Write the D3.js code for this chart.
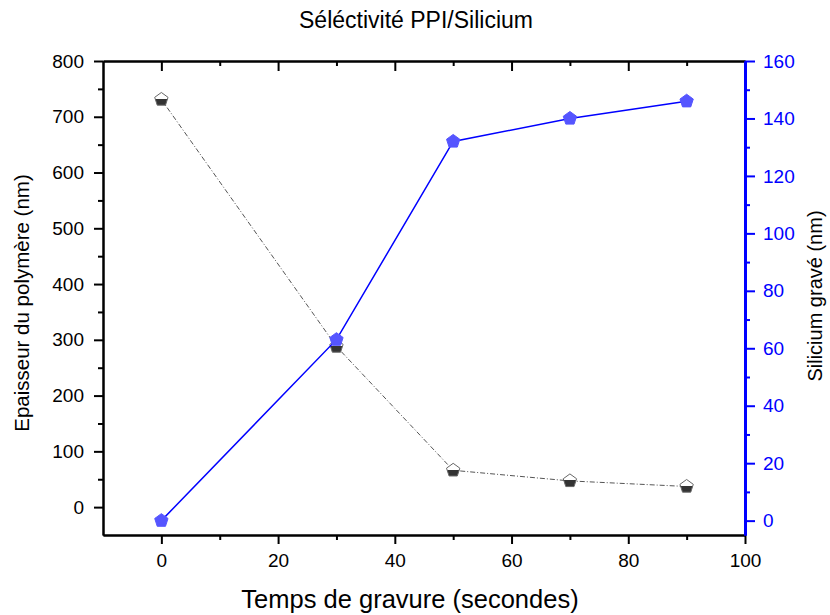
<!DOCTYPE html>
<html>
<head>
<meta charset="utf-8">
<script src="https://cdn.jsdelivr.net/npm/d3@7"></script>
<style>
  body { margin: 0; background: #fff; }
  text { font-family: "Liberation Sans", Arial, sans-serif; }
</style>
</head>
<body>
<svg id="chart"></svg>
<script>
// data
const times = [0, 30, 50, 70, 90];
const polymer = [731, 288, 66, 47, 37];      // left axis, nm
const silicon = [0, 63, 132, 140, 146];      // right axis, nm

const xTicks = [0, 20, 40, 60, 80, 100];
const yLeftTicks = [0, 100, 200, 300, 400, 500, 600, 700, 800];
const yRightTicks = [0, 20, 40, 60, 80, 100, 120, 140, 160];

const config = {
  width: 830,
  height: 615,
  margin: {top: 61, right: 85, bottom: 80, left: 103}
};

const svg = d3.select('#chart')
  .attr('width', config.width)
  .attr('height', config.height);

const w = config.width - config.margin.left - config.margin.right;
const h = config.height - config.margin.top - config.margin.bottom;

const chart = svg.append('g')
  .attr('transform', `translate(${config.margin.left},${config.margin.top})`);

const x = d3.scaleLinear().domain([-10, 100]).range([0, w]);
const yL = d3.scaleLinear().domain([-50, 800]).range([h, 0]);
const yR = d3.scaleLinear().domain([-5, 160]).range([h, 0]);

// minor ticks halfway between majors
const minor = (ticks) => ticks.slice(1).map((t, i) => (t + ticks[i]) / 2)
  .concat([ticks[0] - (ticks[1] - ticks[0]) / 2]);

function styleAxis(g, color, width, fontSize) {
  g.select('.domain').attr('stroke', color).attr('stroke-width', width);
  g.selectAll('.tick line').attr('stroke', color).attr('stroke-width', 2);
  g.selectAll('.tick text').attr('fill', color).style('font-size', fontSize + 'px');
}

// bottom axis
const xMinor = minor(xTicks).filter(t => t > -10 && t < 100);
chart.append('g').attr('transform', `translate(0,${h})`)
  .call(d3.axisBottom(x).tickValues(xMinor).tickSize(5).tickFormat('').tickSizeOuter(0))
  .call(g => styleAxis(g, '#000', 2, 19));
chart.append('g').attr('transform', `translate(0,${h})`)
  .call(d3.axisBottom(x).tickValues(xTicks).tickSize(9).tickPadding(10).tickSizeOuter(0))
  .call(g => styleAxis(g, '#000', 2, 19));

// top axis, ticks pointing in
chart.append('g')
  .call(d3.axisTop(x).tickValues(xMinor).tickSize(-5).tickFormat('').tickSizeOuter(0))
  .call(g => styleAxis(g, '#000', 2, 19));
chart.append('g')
  .call(d3.axisTop(x).tickValues(xTicks.filter(t => t < 100)).tickSize(-10).tickFormat('').tickSizeOuter(0))
  .call(g => styleAxis(g, '#000', 2, 19));

// left axis
const yLMinor = minor(yLeftTicks).filter(t => t > -50 && t < 800);
chart.append('g')
  .call(d3.axisLeft(yL).tickValues(yLMinor).tickSize(5).tickFormat('').tickSizeOuter(0))
  .call(g => styleAxis(g, '#000', 2, 19));
chart.append('g')
  .call(d3.axisLeft(yL).tickValues(yLeftTicks).tickSize(9).tickPadding(10).tickSizeOuter(0))
  .call(g => styleAxis(g, '#000', 2, 19));

// right axis (blue)
const yRMinor = minor(yRightTicks).filter(t => t > -5 && t < 160);
chart.append('g').attr('transform', `translate(${w},0)`)
  .call(d3.axisRight(yR).tickValues(yRMinor).tickSize(5).tickFormat('').tickSizeOuter(0))
  .call(g => styleAxis(g, '#0000ff', 3, 19));
chart.append('g').attr('transform', `translate(${w},0)`)
  .call(d3.axisRight(yR).tickValues(yRightTicks).tickSize(10).tickPadding(8).tickSizeOuter(0))
  .call(g => styleAxis(g, '#0000ff', 3, 19));

// pentagon marker
const r = 7;
const pentagon = d3.range(5).map(i => {
  const a = -Math.PI / 2 + i * 2 * Math.PI / 5;
  return [r * Math.cos(a), r * Math.sin(a)];
});
const pentPath = 'M' + pentagon.map(p => p.join(',')).join('L') + 'Z';

// half filled gradient for the polymer markers
const defs = svg.append('defs');
const grad = defs.append('linearGradient').attr('id', 'half')
  .attr('x1', 0).attr('y1', 0).attr('x2', 0).attr('y2', 1);
grad.append('stop').attr('offset', '0.5').attr('stop-color', '#fff');
grad.append('stop').attr('offset', '0.5').attr('stop-color', '#333');

// polymer series
const lineL = d3.line().x((d, i) => x(times[i])).y(d => yL(d));
chart.append('path')
  .datum(polymer)
  .attr('d', lineL)
  .attr('fill', 'none')
  .attr('stroke', '#555')
  .attr('stroke-width', 1)
  .attr('stroke-dasharray', '5,2,1,2');

chart.selectAll('.mk-l')
  .data(polymer)
  .join('path')
  .attr('class', 'mk-l')
  .attr('d', pentPath)
  .attr('transform', (d, i) => `translate(${x(times[i])},${yL(d)})`)
  .attr('fill', 'url(#half)')
  .attr('stroke', '#666')
  .attr('stroke-width', 1);

// silicon series
const lineR = d3.line().x((d, i) => x(times[i])).y(d => yR(d));
chart.append('path')
  .datum(silicon)
  .attr('d', lineR)
  .attr('fill', 'none')
  .attr('stroke', '#0000ff')
  .attr('stroke-width', 1.5);

chart.selectAll('.mk-r')
  .data(silicon)
  .join('path')
  .attr('class', 'mk-r')
  .attr('d', pentPath)
  .attr('transform', (d, i) => `translate(${x(times[i])},${yR(d)})`)
  .attr('fill', '#5555ff')
  .attr('stroke', '#5555ff')
  .attr('stroke-width', 1);

// titles
svg.append('text')
  .attr('x', 416).attr('y', 28)
  .attr('text-anchor', 'middle')
  .style('font-size', '23px')
  .text('Séléctivité PPI/Silicium');

svg.append('text')
  .attr('x', 410).attr('y', 608)
  .attr('text-anchor', 'middle')
  .style('font-size', '25.5px')
  .text('Temps de gravure (secondes)');

svg.append('text')
  .attr('transform', `translate(29,${config.margin.top + h / 2 + 5}) rotate(-90)`)
  .attr('text-anchor', 'middle')
  .style('font-size', '20.5px')
  .text('Epaisseur du polymère (nm)');

svg.append('text')
  .attr('transform', `translate(822,${config.margin.top + h / 2 - 2}) rotate(-90)`)
  .attr('text-anchor', 'middle')
  .style('font-size', '20px')
  .text('Silicium gravé (nm)');
</script>
</body>
</html>
